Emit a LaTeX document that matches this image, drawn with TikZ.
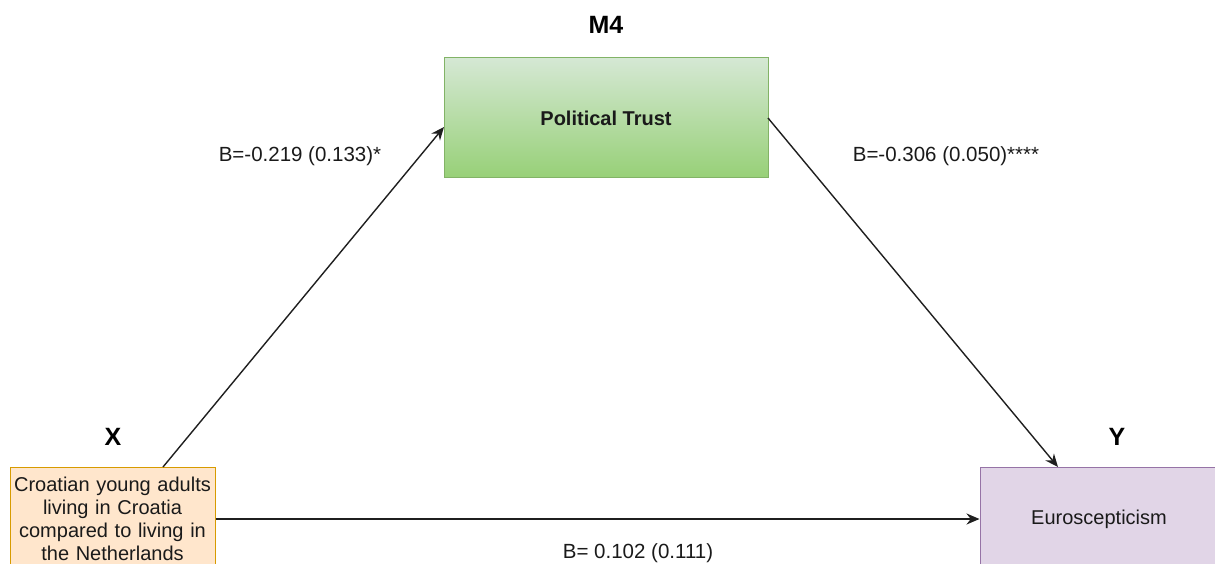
\documentclass[tikz,border=0pt]{standalone}
\usepackage{fontspec}
\setmainfont{Liberation Sans}
\usetikzlibrary{arrows.meta}
\definecolor{orfill}{HTML}{FFE6CC}
\definecolor{ordraw}{HTML}{D79B00}
\definecolor{pufill}{HTML}{E1D5E7}
\definecolor{pudraw}{HTML}{9673A6}
\definecolor{grtop}{HTML}{D5E8D4}
\definecolor{grbot}{HTML}{97D077}
\definecolor{grdraw}{HTML}{82B366}
\definecolor{txt}{HTML}{1A1A1A}
\tikzset{
  box/.style={draw, line width=1pt, inner sep=1pt, align=center, text=txt, font=\fontsize{20}{23}\selectfont},
  conn/.style={-{Stealth[length=13pt,width=11pt]}, line width=1.4pt, draw=black!88},
  lbl/.style={font=\fontsize{20.5}{24}\selectfont, text=txt},
  head/.style={font=\fontsize{25}{28}\selectfont\bfseries, text=black}
}
\begin{document}
\begin{tikzpicture}[x=1pt,y=-1pt]
\clip (0,0) rectangle (1215,564);
\fill[white] (0,0) rectangle (1215,564);
\node[box, draw=grdraw, top color=grtop, bottom color=grbot, minimum width=324pt, minimum height=120pt, font=\fontsize{20}{23}\selectfont\bfseries] (m) at (606,118) {Political Trust};
\node[box, draw=ordraw, fill=orfill, minimum width=205pt, minimum height=104pt, text width=203pt] (x) at (112.5,519) {Croatian young adults\\living in Croatia\\compared to living in\\the Netherlands};
\node[box, draw=pudraw, fill=pufill, minimum width=238pt, minimum height=104pt] (y) at (1099,519) {Euroscepticism};
\node[head] (m4) at (606,25) {M4};
\node[head] (xl) at (113,437) {X};
\node[head] (yl) at (1117,437) {Y};
\coordinate (xs) at (163,467);
\coordinate (me) at (444,127);
\coordinate (ms) at (768,118);
\coordinate (ye) at (1058,467);
\draw[conn] (xs) -- (me);
\draw[conn] (ms) -- (ye);
\draw[conn] (x.east) -- (y.west);
\node[lbl] (l1) at (300,156) {B=-0.219 (0.133)*};
\node[lbl] (l2) at (946,156) {B=-0.306 (0.050)****};
\node[lbl] (l3) at (638,553) {B= 0.102 (0.111)};
\end{tikzpicture}
\end{document}
